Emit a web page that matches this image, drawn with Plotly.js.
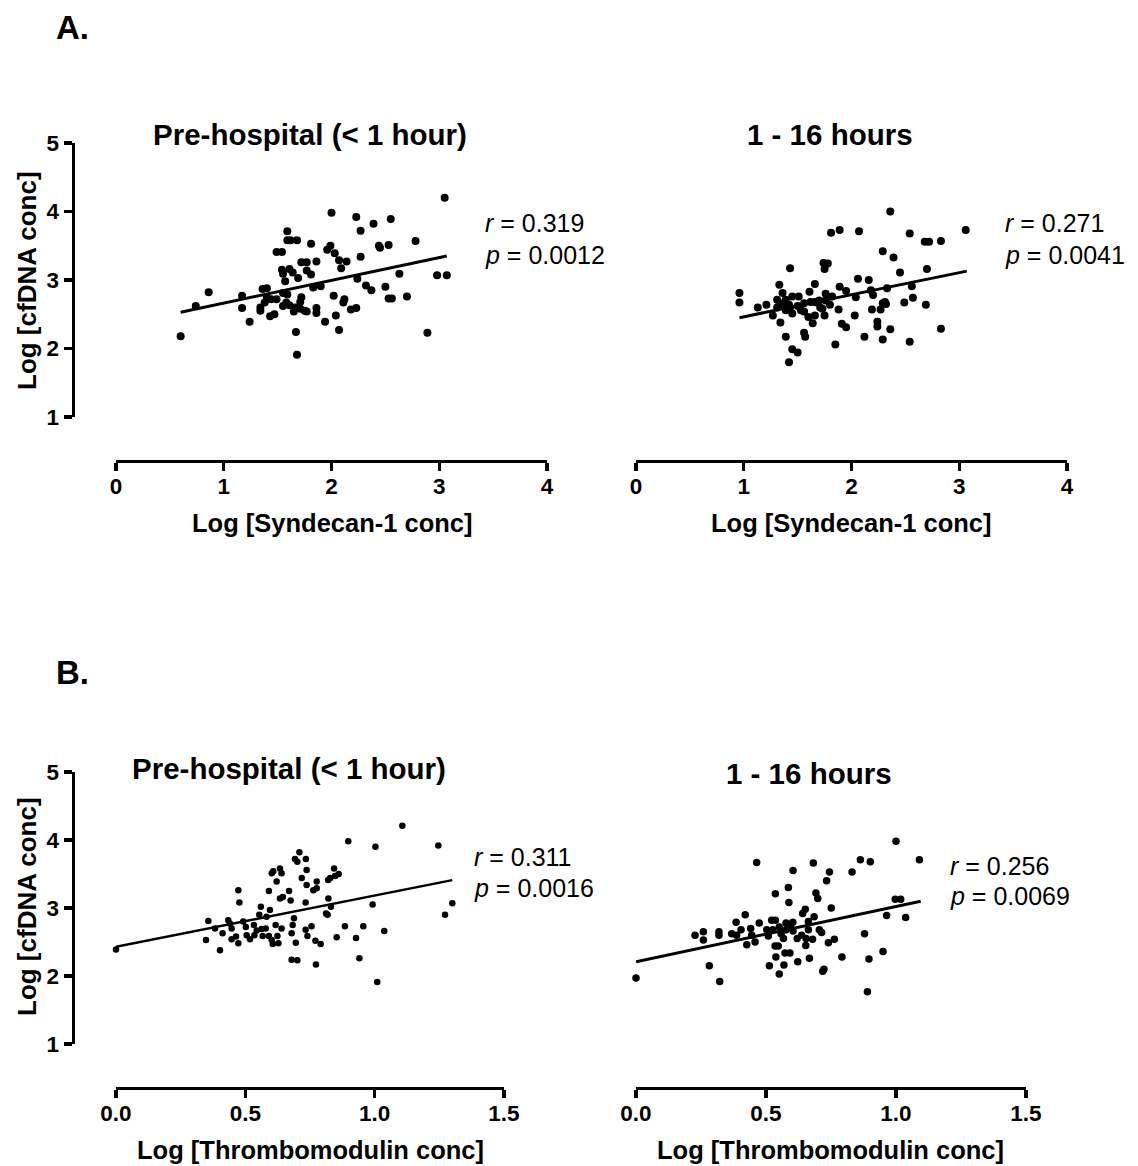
<!DOCTYPE html>
<html>
<head>
<meta charset="utf-8">
<script src="https://cdn.plot.ly/plotly-3.0.1.min.js"></script>
<style>html,body{margin:0;padding:0;background:#fff;}#chart{width:1138px;height:1166px;}</style>
</head>
<body>
<div id="chart"></div>
<script>
// ---------- DATA ----------
// Panel A, pre-hospital: Log[Syndecan-1] vs Log[cfDNA]
const aPreX = [0.60,0.74,0.86,1.17,1.17,1.24,1.36,1.40,1.34,1.34,1.38,1.43,1.47,1.40,1.44,1.49,1.49,1.54,1.54,1.55,1.57,1.59,1.59,1.62,1.68,1.61,1.64,1.69,1.55,1.59,1.55,1.58,1.61,1.66,1.65,1.71,1.72,1.71,1.75,1.77,1.67,1.68,1.72,1.77,1.77,1.81,1.81,1.86,1.83,1.90,1.86,1.86,1.94,2.00,1.96,1.99,2.03,2.07,2.14,2.09,2.02,2.04,2.07,2.12,2.11,2.18,2.23,2.23,2.27,2.27,2.24,2.39,2.32,2.37,2.44,2.45,2.53,2.55,2.50,2.53,2.56,2.63,2.70,2.78,2.89,2.98,3.07,3.05];
const aPreY = [2.18,2.62,2.82,2.77,2.59,2.39,2.87,2.88,2.60,2.55,2.67,2.47,2.50,2.74,2.72,2.72,3.41,3.41,3.15,3.09,2.98,3.71,3.58,3.58,3.58,3.16,3.11,3.03,2.81,2.79,2.62,2.67,2.63,2.60,2.54,2.68,2.75,2.58,2.55,2.54,2.24,1.91,3.26,3.26,3.14,3.08,3.53,3.27,2.89,2.91,2.59,2.52,2.39,3.98,3.44,3.50,3.39,3.29,3.27,3.17,2.77,2.48,2.27,2.72,2.67,2.57,2.59,3.92,3.72,3.34,3.02,3.82,2.92,2.85,3.50,3.47,3.51,3.89,2.90,2.73,2.73,3.09,2.76,3.57,2.23,3.07,3.07,4.20];
// Panel A, 1-16 hours
const aLateX = [0.96,0.96,1.13,1.21,1.27,1.33,1.36,1.31,1.34,1.31,1.37,1.39,1.39,1.42,1.43,1.45,1.45,1.34,1.39,1.43,1.45,1.50,1.42,1.51,1.50,1.53,1.56,1.56,1.56,1.57,1.61,1.62,1.60,1.64,1.66,1.66,1.68,1.70,1.66,1.71,1.74,1.78,1.75,1.76,1.76,1.73,1.75,1.80,1.82,1.81,1.89,1.89,1.88,1.91,1.95,1.95,1.85,2.03,2.04,2.06,2.07,2.12,2.16,2.18,2.20,2.19,2.24,2.24,2.27,2.29,2.31,2.32,2.29,2.36,2.33,2.29,2.36,2.39,2.45,2.49,2.54,2.54,2.56,2.57,2.69,2.68,2.72,2.70,2.83,2.83,3.06];
const aLateY = [2.81,2.67,2.60,2.64,2.48,2.93,2.81,2.71,2.64,2.60,2.66,2.71,2.56,2.64,2.60,2.76,2.51,2.38,2.17,3.17,1.99,1.94,1.80,2.76,2.62,2.56,2.66,2.54,2.23,2.17,2.83,2.68,2.46,2.37,2.94,2.68,2.67,2.70,2.48,2.60,3.25,3.24,3.16,2.80,2.70,2.58,2.48,2.64,2.76,3.69,3.73,2.90,2.57,2.36,2.31,2.84,2.06,2.48,2.75,3.02,3.71,2.17,3.00,2.85,2.78,2.57,2.39,2.32,2.57,2.66,2.68,2.65,2.13,2.28,2.88,3.42,4.00,3.33,3.11,2.67,3.68,2.10,2.91,2.74,2.64,3.56,3.56,3.16,3.57,2.29,3.73];
// Panel B, pre-hospital: Log[Thrombomodulin] vs Log[cfDNA]
const bPreX = [0.000,0.357,0.348,0.402,0.383,0.412,0.434,0.441,0.447,0.447,0.464,0.473,0.473,0.477,0.492,0.502,0.505,0.518,0.533,0.535,0.544,0.554,0.560,0.563,0.567,0.579,0.582,0.591,0.595,0.591,0.602,0.606,0.608,0.602,0.621,0.617,0.628,0.624,0.634,0.640,0.634,0.645,0.640,0.669,0.675,0.688,0.683,0.679,0.679,0.701,0.695,0.692,0.701,0.709,0.734,0.737,0.718,0.737,0.733,0.733,0.740,0.756,0.763,0.776,0.776,0.771,0.791,0.773,0.812,0.818,0.821,0.831,0.820,0.828,0.843,0.847,0.861,0.853,0.885,0.898,0.928,0.941,0.956,0.992,1.003,1.010,1.037,1.107,1.246,1.272,1.300];
const bPreY = [2.39,2.81,2.53,2.38,2.70,2.63,2.82,2.77,2.70,2.54,2.58,2.48,3.26,3.08,2.80,2.72,2.60,2.54,2.75,2.60,2.67,2.90,3.02,2.69,2.59,2.70,2.87,3.25,2.97,2.59,2.53,2.47,3.54,3.51,3.39,2.75,2.48,2.59,3.58,3.51,3.14,3.16,2.70,3.25,3.11,2.85,2.75,2.63,2.24,2.23,2.49,3.72,3.68,3.82,3.72,3.56,3.44,3.34,3.08,2.68,2.59,2.73,3.26,3.39,3.29,2.52,2.47,2.17,2.92,2.90,3.14,3.02,3.41,3.44,3.58,3.47,3.50,2.57,2.73,3.98,2.56,2.26,2.73,3.05,3.90,1.91,2.66,4.21,3.92,2.90,3.07];
// Panel B, 1-16 hours
const bLateX = [0.000,0.227,0.259,0.259,0.282,0.319,0.319,0.322,0.368,0.385,0.387,0.404,0.420,0.426,0.441,0.445,0.458,0.464,0.474,0.503,0.509,0.513,0.522,0.526,0.536,0.536,0.535,0.538,0.547,0.551,0.551,0.558,0.567,0.573,0.569,0.577,0.577,0.586,0.588,0.592,0.595,0.604,0.603,0.604,0.622,0.620,0.637,0.641,0.651,0.653,0.654,0.663,0.663,0.667,0.679,0.685,0.682,0.692,0.699,0.705,0.714,0.718,0.723,0.733,0.744,0.740,0.751,0.763,0.792,0.831,0.863,0.901,0.879,0.896,0.890,0.950,0.964,1.000,0.997,1.018,1.037,1.090];
const bLateY = [1.97,2.60,2.65,2.53,2.15,2.65,2.60,1.92,2.62,2.79,2.60,2.68,2.90,2.46,2.70,2.60,2.50,3.67,2.78,2.68,2.59,2.15,2.82,2.68,3.21,2.82,2.44,2.28,2.44,2.03,2.72,2.62,2.55,2.34,2.16,2.68,2.78,3.30,3.08,2.34,2.72,3.55,2.79,2.66,2.21,2.55,2.60,2.92,2.98,2.45,2.55,2.80,2.68,2.26,2.54,2.87,3.66,3.22,3.14,2.68,2.64,2.07,2.10,3.40,3.53,2.49,3.00,2.54,2.28,3.53,3.71,3.68,2.62,2.25,1.77,2.36,2.89,3.98,3.13,3.13,2.86,3.71];
// Regression lines (end points)
const fitAPreX = [0.60, 3.07],  fitAPreY = [2.53, 3.35];
const fitALateX = [0.96, 3.07], fitALateY = [2.45, 3.13];
const fitBPreX = [0.00, 1.30],  fitBPreY = [2.43, 3.41];
const fitBLateX = [0.00, 1.095], fitBLateY = [2.21, 3.10];
// Statistics text
const statsR = ["0.319", "0.271", "0.311", "0.256"];
const statsP = ["0.0012", "0.0041", "0.0016", "0.0069"];
const panelTitles = ["Pre-hospital (< 1 hour)", "1 - 16 hours", "Pre-hospital (< 1 hour)", "1 - 16 hours"];
const xTitles = ["Log [Syndecan-1 conc]", "Log [Syndecan-1 conc]", "Log [Thrombomodulin conc]", "Log [Thrombomodulin conc]"];
const yTitle = "Log [cfDNA conc]";
const panelLabels = ["A.", "B."];

// ---------- LAYOUT HELPERS ----------
const W = 1138, H = 1166;
const px = v => v / W;
const py = v => 1 - v / H;
const FONT = "Liberation Sans, Arial, Helvetica, sans-serif";

function scatter(x, y, xa, ya, size) {
  return {x: x, y: y, xaxis: xa, yaxis: ya, type: 'scatter', mode: 'markers',
    marker: {color: '#000', size: size}, cliponaxis: false, hoverinfo: 'skip', showlegend: false};
}
function fit(x, y, xa, ya, w) {
  return {x: x, y: y, xaxis: xa, yaxis: ya, type: 'scatter', mode: 'lines',
    line: {color: '#000', width: w}, cliponaxis: false, hoverinfo: 'skip', showlegend: false};
}

const traces = [
  scatter(aPreX, aPreY, 'x', 'y', 8), fit(fitAPreX, fitAPreY, 'x', 'y', 3),
  scatter(aLateX, aLateY, 'x2', 'y', 8), fit(fitALateX, fitALateY, 'x2', 'y', 3),
  scatter(bPreX, bPreY, 'x3', 'y2', 6.5), fit(fitBPreX, fitBPreY, 'x3', 'y2', 2.5),
  scatter(bLateX, bLateY, 'x4', 'y2', 7.5), fit(fitBLateX, fitBLateY, 'x4', 'y2', 3)
];

const tickFont = {family: FONT, size: 22.5, color: '#000', weight: 'bold'};
function xAxis(l, r, range, dtick, fmt, linePos) {
  return {domain: [px(l), px(r)], range: range, anchor: 'free', position: py(linePos),
    showgrid: false, zeroline: false, showline: true, linecolor: '#000', linewidth: 3.2,
    ticks: 'outside', ticklen: 8, tickwidth: 3.2, tickcolor: '#000', dtick: dtick, tick0: 0,
    ticklabelstandoff: -4,
    tickformat: fmt, tickfont: tickFont, fixedrange: true};
}
function yAxis(top, bottom, linePos) {
  return {domain: [py(bottom), py(top)], range: [1, 5], anchor: 'free', position: px(linePos),
    showgrid: false, zeroline: false, showline: true, linecolor: '#000', linewidth: 3.2,
    ticks: 'outside', ticklen: 8, tickwidth: 3.2, tickcolor: '#000', dtick: 1, tick0: 1,
    tickfont: tickFont, fixedrange: true};
}

const layout = {
  width: W, height: H, margin: {l: 0, r: 0, t: 0, b: 0},
  paper_bgcolor: '#fff', plot_bgcolor: 'rgba(0,0,0,0)', showlegend: false,
  font: {family: FONT, color: '#000'},
  xaxis: xAxis(116, 547, [0, 4], 1, 'd', 460.5),
  xaxis2: xAxis(636, 1067, [0, 4], 1, 'd', 460.5),
  xaxis3: xAxis(116, 504, [0, 1.5], 0.5, '.1f', 1087.5),
  xaxis4: xAxis(636, 1026, [0, 1.5], 0.5, '.1f', 1087.5),
  yaxis: yAxis(143, 417, 72.5),
  yaxis2: yAxis(772, 1044, 72.5),
  annotations: []
};

const ann = layout.annotations;
function txt(text, x, y, size, bold, xanchor, angle) {
  ann.push({text: text, x: px(x), y: py(y), xref: 'paper', yref: 'paper', showarrow: false,
    xanchor: xanchor || 'center', yanchor: 'middle', textangle: angle || 0,
    font: {family: FONT, size: size, color: '#000', weight: bold ? 'bold' : 'normal'}});
}
// panel letters
txt(panelLabels[0], 54, 28, 33, true, 'left');
txt(panelLabels[1], 54, 672, 33, true, 'left');
// panel titles
txt(panelTitles[0], 310, 135, 29.5, true);
txt(panelTitles[1], 830, 135, 29.5, true);
txt(panelTitles[2], 289, 768, 29.5, true);
txt(panelTitles[3], 809, 773, 29.5, true);
// y titles
txt(yTitle, 27, 281, 26, true, 'center', -90);
txt(yTitle, 27, 907, 26, true, 'center', -90);
// x titles
txt(xTitles[0], 332, 523, 25.5, true);
txt(xTitles[1], 851, 523, 25.5, true);
txt(xTitles[2], 310, 1150, 25.5, true);
txt(xTitles[3], 830, 1150, 25.5, true);
// stats
const statPos = [[483, 223, 255], [1003, 223, 255], [472, 857, 888], [948, 866, 896]];
statPos.forEach((s, i) => {
  txt('<i>r</i> = ' + statsR[i], s[0], s[1], 25, false, 'left');
  txt('<i>p</i> = ' + statsP[i], s[0], s[2], 25, false, 'left');
});

Plotly.newPlot('chart', traces, layout, {staticPlot: true, displayModeBar: false});
</script>
</body>
</html>
